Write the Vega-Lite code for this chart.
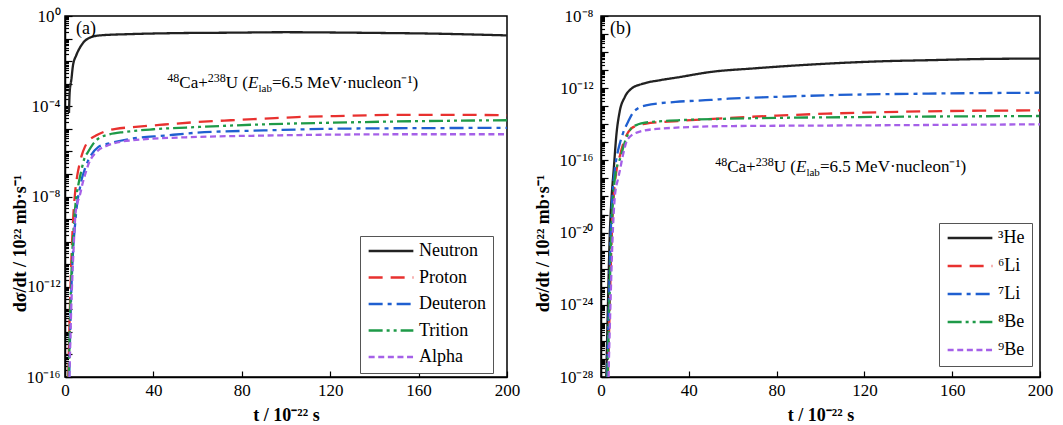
{
"$schema": "https://vega.github.io/schema/vega-lite/v6.json",
"background": "white",
"padding": {"left": 10, "top": 6, "right": 5, "bottom": 5},
"bounds": "flush",
"spacing": 94,
"config": {
  "font": "Liberation Serif",
  "view": {"stroke": "black", "strokeWidth": 1.5},
  "axis": {"domainColor": "black", "domainWidth": 1.5, "tickColor": "black", "tickWidth": 1.2, "labelColor": "black", "labelFont": "Liberation Serif", "labelFontSize": 17, "titleFont": "Liberation Serif", "titleFontSize": 18, "titleFontWeight": "bold", "titleColor": "black", "grid": false, "labelOverlap": false, "labelFlush": false},
  "legend": {"strokeColor": "#555", "fillColor": "white", "padding": 7, "symbolType": "stroke", "symbolSize": 2000, "symbolStrokeWidth": 2.5, "labelFontSize": 18, "labelFont": "Liberation Serif", "labelColor": "black", "clipHeight": 16, "rowPadding": 8.5, "labelOffset": 4, "cornerRadius": 0}
},
"resolve": {"scale": {"y": "independent", "color": "independent", "strokeDash": "independent"}, "legend": {"color": "independent", "strokeDash": "independent"}},
"hconcat": [
{
  "width": 442, "height": 361,
  "encoding": {
    "x": {"field": "t", "type": "quantitative", "scale": {"domain": [0, 200], "nice": false},
      "axis": {"values": [0, 40, 80, 120, 160, 200], "tickSize": -6, "labelPadding": 11, "title": "t / 10⁻²² s", "titleY": 38, "titleBaseline": "middle"}},
    "y": {"field": "v", "type": "quantitative", "scale": {"type": "log", "domain": [1e-16, 1], "nice": false},
      "axis": {"values": [1,2e-1,3e-1,4e-1,5e-1,6e-1,7e-1,8e-1,9e-1,1e-1,2e-2,3e-2,4e-2,5e-2,6e-2,7e-2,8e-2,9e-2,1e-2,2e-3,3e-3,4e-3,5e-3,6e-3,7e-3,8e-3,9e-3,1e-3,2e-4,3e-4,4e-4,5e-4,6e-4,7e-4,8e-4,9e-4,1e-4,2e-5,3e-5,4e-5,5e-5,6e-5,7e-5,8e-5,9e-5,1e-5,2e-6,3e-6,4e-6,5e-6,6e-6,7e-6,8e-6,9e-6,1e-6,2e-7,3e-7,4e-7,5e-7,6e-7,7e-7,8e-7,9e-7,1e-7,2e-8,3e-8,4e-8,5e-8,6e-8,7e-8,8e-8,9e-8,1e-8,2e-9,3e-9,4e-9,5e-9,6e-9,7e-9,8e-9,9e-9,1e-9,2e-10,3e-10,4e-10,5e-10,6e-10,7e-10,8e-10,9e-10,1e-10,2e-11,3e-11,4e-11,5e-11,6e-11,7e-11,8e-11,9e-11,1e-11,2e-12,3e-12,4e-12,5e-12,6e-12,7e-12,8e-12,9e-12,1e-12,2e-13,3e-13,4e-13,5e-13,6e-13,7e-13,8e-13,9e-13,1e-13,2e-14,3e-14,4e-14,5e-14,6e-14,7e-14,8e-14,9e-14,1e-14,2e-15,3e-15,4e-15,5e-15,6e-15,7e-15,8e-15,9e-15,1e-15,2e-16,3e-16,4e-16,5e-16,6e-16,7e-16,8e-16,9e-16,1e-16],
        "labelExpr": "abs(log(datum.value)/LN10 - round(log(datum.value)/LN10)) < 0.01 && round(log(datum.value)/LN10) % 4 == 0 ? '10' + replace(replace(replace(replace(replace(replace(replace('' + round(log(datum.value)/LN10), '-', '⁻'), '0', '⁰'), '1', '¹'), '2', '²'), '4', '⁴'), '6', '⁶'), '8', '⁸') : ''",
        "tickSize": {"condition": {"test": "abs(log(datum.value)/LN10 - round(log(datum.value)/LN10)) < 0.01", "value": -7}, "value": -3.5},
        "labelPadding": 12, "title": "dσ/dt / 10²² mb·s⁻¹", "titleX": -45, "titleY": 227, "titleAlign": "center", "titleBaseline": "middle", "titleAngle": -90}}
  },
  "layer": [
    {
      "data": {"values": [
        {"series": "Neutron", "t": 1.8, "v": 5.01e-5},
        {"series": "Neutron", "t": 2.1, "v": 3.98e-4},
        {"series": "Neutron", "t": 2.9, "v": 1.58e-3},
        {"series": "Neutron", "t": 3.6, "v": 6.31e-3},
        {"series": "Neutron", "t": 5.1, "v": 1.82e-2},
        {"series": "Neutron", "t": 7.4, "v": 5.01e-2},
        {"series": "Neutron", "t": 10.4, "v": 0.1},
        {"series": "Neutron", "t": 15.7, "v": 0.138},
        {"series": "Neutron", "t": 30, "v": 0.158},
        {"series": "Neutron", "t": 50, "v": 0.174},
        {"series": "Neutron", "t": 75, "v": 0.182},
        {"series": "Neutron", "t": 100, "v": 0.191},
        {"series": "Neutron", "t": 120, "v": 0.186},
        {"series": "Neutron", "t": 140, "v": 0.178},
        {"series": "Neutron", "t": 166, "v": 0.166},
        {"series": "Neutron", "t": 185, "v": 0.151},
        {"series": "Neutron", "t": 200, "v": 0.138},
        {"series": "Proton", "t": 1.5, "v": 1e-16},
        {"series": "Proton", "t": 2.2, "v": 1e-13},
        {"series": "Proton", "t": 3.0, "v": 3.16e-11},
        {"series": "Proton", "t": 3.8, "v": 1.58e-9},
        {"series": "Proton", "t": 4.5, "v": 1.26e-8},
        {"series": "Proton", "t": 5.5, "v": 7.94e-8},
        {"series": "Proton", "t": 6.5, "v": 2.51e-7},
        {"series": "Proton", "t": 7.5, "v": 6.31e-7},
        {"series": "Proton", "t": 9, "v": 1.58e-6},
        {"series": "Proton", "t": 11, "v": 3.16e-6},
        {"series": "Proton", "t": 14, "v": 5.01e-6},
        {"series": "Proton", "t": 18, "v": 7.59e-6},
        {"series": "Proton", "t": 23, "v": 1e-5},
        {"series": "Proton", "t": 30, "v": 1.17e-5},
        {"series": "Proton", "t": 45, "v": 1.55e-5},
        {"series": "Proton", "t": 60, "v": 2.0e-5},
        {"series": "Proton", "t": 75, "v": 2.4e-5},
        {"series": "Proton", "t": 90, "v": 2.82e-5},
        {"series": "Proton", "t": 105, "v": 3.31e-5},
        {"series": "Proton", "t": 130, "v": 3.8e-5},
        {"series": "Proton", "t": 150, "v": 4.17e-5},
        {"series": "Proton", "t": 175, "v": 4.17e-5},
        {"series": "Proton", "t": 200, "v": 3.98e-5},
        {"series": "Deuteron", "t": 1.9, "v": 1e-16},
        {"series": "Deuteron", "t": 2.6, "v": 1e-13},
        {"series": "Deuteron", "t": 3.6, "v": 3.16e-11},
        {"series": "Deuteron", "t": 4.6, "v": 6.31e-10},
        {"series": "Deuteron", "t": 5.5, "v": 5.01e-9},
        {"series": "Deuteron", "t": 6.7, "v": 2.24e-8},
        {"series": "Deuteron", "t": 7.8, "v": 7.08e-8},
        {"series": "Deuteron", "t": 9, "v": 1.66e-7},
        {"series": "Deuteron", "t": 10.5, "v": 3.98e-7},
        {"series": "Deuteron", "t": 11.8, "v": 6.76e-7},
        {"series": "Deuteron", "t": 15, "v": 1.55e-6},
        {"series": "Deuteron", "t": 19.5, "v": 2.19e-6},
        {"series": "Deuteron", "t": 30, "v": 3.63e-6},
        {"series": "Deuteron", "t": 45, "v": 5.01e-6},
        {"series": "Deuteron", "t": 60, "v": 6.76e-6},
        {"series": "Deuteron", "t": 90, "v": 8.51e-6},
        {"series": "Deuteron", "t": 120, "v": 1e-5},
        {"series": "Deuteron", "t": 160, "v": 1.07e-5},
        {"series": "Deuteron", "t": 200, "v": 1.1e-5},
        {"series": "Trition", "t": 1.7, "v": 1e-16},
        {"series": "Trition", "t": 2.4, "v": 1e-13},
        {"series": "Trition", "t": 3.3, "v": 3.16e-11},
        {"series": "Trition", "t": 4.2, "v": 1e-9},
        {"series": "Trition", "t": 5, "v": 7.94e-9},
        {"series": "Trition", "t": 6, "v": 3.16e-8},
        {"series": "Trition", "t": 7.3, "v": 1.26e-7},
        {"series": "Trition", "t": 8.5, "v": 3.98e-7},
        {"series": "Trition", "t": 10.4, "v": 9.33e-7},
        {"series": "Trition", "t": 12.5, "v": 2.0e-6},
        {"series": "Trition", "t": 15, "v": 3.63e-6},
        {"series": "Trition", "t": 20, "v": 5.62e-6},
        {"series": "Trition", "t": 27, "v": 7.24e-6},
        {"series": "Trition", "t": 40, "v": 9.55e-6},
        {"series": "Trition", "t": 60, "v": 1.2e-5},
        {"series": "Trition", "t": 90, "v": 1.58e-5},
        {"series": "Trition", "t": 120, "v": 1.86e-5},
        {"series": "Trition", "t": 160, "v": 2.19e-5},
        {"series": "Trition", "t": 200, "v": 2.4e-5},
        {"series": "Alpha", "t": 2.0, "v": 1e-16},
        {"series": "Alpha", "t": 2.8, "v": 1e-13},
        {"series": "Alpha", "t": 3.8, "v": 3.16e-11},
        {"series": "Alpha", "t": 4.7, "v": 1.48e-9},
        {"series": "Alpha", "t": 5.6, "v": 5.01e-9},
        {"series": "Alpha", "t": 6.7, "v": 1.12e-8},
        {"series": "Alpha", "t": 8, "v": 3.98e-8},
        {"series": "Alpha", "t": 9, "v": 8.71e-8},
        {"series": "Alpha", "t": 10.5, "v": 2.51e-7},
        {"series": "Alpha", "t": 11.8, "v": 4.79e-7},
        {"series": "Alpha", "t": 13.5, "v": 7.94e-7},
        {"series": "Alpha", "t": 15, "v": 1.12e-6},
        {"series": "Alpha", "t": 19.5, "v": 1.86e-6},
        {"series": "Alpha", "t": 30, "v": 3.09e-6},
        {"series": "Alpha", "t": 60, "v": 4.37e-6},
        {"series": "Alpha", "t": 90, "v": 5.01e-6},
        {"series": "Alpha", "t": 120, "v": 5.5e-6},
        {"series": "Alpha", "t": 160, "v": 5.75e-6},
        {"series": "Alpha", "t": 200, "v": 5.75e-6}
      ]},
      "mark": {"type": "line", "strokeWidth": 2.3, "clip": true, "interpolate": "monotone"},
      "encoding": {
        "color": {"field": "series", "type": "nominal", "scale": {"domain": ["Neutron", "Proton", "Deuteron", "Trition", "Alpha"], "range": ["#222222", "#e8312f", "#1f5fd0", "#1e9a48", "#a560e8"]},
          "legend": {"title": null, "orient": "none", "legendX": 295, "legendY": 220}},
        "strokeDash": {"field": "series", "type": "nominal", "scale": {"domain": ["Neutron", "Proton", "Deuteron", "Trition", "Alpha"], "range": [[1, 0], [14, 8], [14, 5, 4, 5], [14, 4, 3, 4, 3, 4], [6, 3.6]]},
          "legend": {"title": null, "orient": "none", "legendX": 295, "legendY": 220}}
      }
    },
    {
      "data": {"values": [{"t": 5.0, "v": 0.265, "label": "(a)"}]},
      "mark": {"type": "text", "align": "left", "baseline": "middle", "fontSize": 18, "font": "Liberation Serif", "color": "black"},
      "encoding": {"text": {"field": "label"}}
    },
    {
      "data": {"values": [{"t": 82.8, "v": 6.4e-4, "label": "U ("}]},
      "mark": {"type": "text", "align": "right", "baseline": "alphabetic", "fontSize": 17, "font": "Liberation Serif", "color": "black"},
      "encoding": {"text": {"field": "label"}}
    },
    {
      "data": {"values": [{"t": 82.8, "v": 6.4e-4, "label": "238"}]},
      "mark": {"type": "text", "align": "right", "baseline": "alphabetic", "fontSize": 12, "dx": -22.2, "dy": -6, "font": "Liberation Serif", "color": "black"},
      "encoding": {"text": {"field": "label"}}
    },
    {
      "data": {"values": [{"t": 82.8, "v": 6.4e-4, "label": "Ca+"}]},
      "mark": {"type": "text", "align": "right", "baseline": "alphabetic", "fontSize": 17, "dx": -40.2, "font": "Liberation Serif", "color": "black"},
      "encoding": {"text": {"field": "label"}}
    },
    {
      "data": {"values": [{"t": 82.8, "v": 6.4e-4, "label": "48"}]},
      "mark": {"type": "text", "align": "right", "baseline": "alphabetic", "fontSize": 12, "dx": -68.7, "dy": -6, "font": "Liberation Serif", "color": "black"},
      "encoding": {"text": {"field": "label"}}
    },
    {
      "data": {"values": [{"t": 82.8, "v": 6.4e-4, "label": "E"}]},
      "mark": {"type": "text", "align": "left", "baseline": "alphabetic", "fontSize": 17, "fontStyle": "italic", "font": "Liberation Serif", "color": "black"},
      "encoding": {"text": {"field": "label"}}
    },
    {
      "data": {"values": [{"t": 82.8, "v": 6.4e-4, "label": "lab"}]},
      "mark": {"type": "text", "align": "left", "baseline": "alphabetic", "fontSize": 11, "dx": 10.5, "dy": 4, "font": "Liberation Serif", "color": "black"},
      "encoding": {"text": {"field": "label"}}
    },
    {
      "data": {"values": [{"t": 82.8, "v": 6.4e-4, "label": "=6.5 MeV·nucleon⁻¹)"}]},
      "mark": {"type": "text", "align": "left", "baseline": "alphabetic", "fontSize": 17, "dx": 24, "font": "Liberation Serif", "color": "black"},
      "encoding": {"text": {"field": "label"}}
    }
  ]
},
{
  "width": 439, "height": 361,
  "encoding": {
    "x": {"field": "t", "type": "quantitative", "scale": {"domain": [0, 200], "nice": false},
      "axis": {"values": [0, 40, 80, 120, 160, 200], "tickSize": -6, "labelPadding": 11, "title": "t / 10⁻²² s", "titleY": 38, "titleBaseline": "middle"}},
    "y": {"field": "v", "type": "quantitative", "scale": {"type": "log", "domain": [1e-28, 1e-8], "nice": false},
      "axis": {"values": [1e-8,2e-9,3e-9,4e-9,5e-9,6e-9,7e-9,8e-9,9e-9,1e-9,2e-10,3e-10,4e-10,5e-10,6e-10,7e-10,8e-10,9e-10,1e-10,2e-11,3e-11,4e-11,5e-11,6e-11,7e-11,8e-11,9e-11,1e-11,2e-12,3e-12,4e-12,5e-12,6e-12,7e-12,8e-12,9e-12,1e-12,2e-13,3e-13,4e-13,5e-13,6e-13,7e-13,8e-13,9e-13,1e-13,2e-14,3e-14,4e-14,5e-14,6e-14,7e-14,8e-14,9e-14,1e-14,2e-15,3e-15,4e-15,5e-15,6e-15,7e-15,8e-15,9e-15,1e-15,2e-16,3e-16,4e-16,5e-16,6e-16,7e-16,8e-16,9e-16,1e-16,2e-17,3e-17,4e-17,5e-17,6e-17,7e-17,8e-17,9e-17,1e-17,2e-18,3e-18,4e-18,5e-18,6e-18,7e-18,8e-18,9e-18,1e-18,2e-19,3e-19,4e-19,5e-19,6e-19,7e-19,8e-19,9e-19,1e-19,2e-20,3e-20,4e-20,5e-20,6e-20,7e-20,8e-20,9e-20,1e-20,2e-21,3e-21,4e-21,5e-21,6e-21,7e-21,8e-21,9e-21,1e-21,2e-22,3e-22,4e-22,5e-22,6e-22,7e-22,8e-22,9e-22,1e-22,2e-23,3e-23,4e-23,5e-23,6e-23,7e-23,8e-23,9e-23,1e-23,2e-24,3e-24,4e-24,5e-24,6e-24,7e-24,8e-24,9e-24,1e-24,2e-25,3e-25,4e-25,5e-25,6e-25,7e-25,8e-25,9e-25,1e-25,2e-26,3e-26,4e-26,5e-26,6e-26,7e-26,8e-26,9e-26,1e-26,2e-27,3e-27,4e-27,5e-27,6e-27,7e-27,8e-27,9e-27,1e-27,2e-28,3e-28,4e-28,5e-28,6e-28,7e-28,8e-28,9e-28,1e-28],
        "labelExpr": "abs(log(datum.value)/LN10 - round(log(datum.value)/LN10)) < 0.01 && round(log(datum.value)/LN10) % 4 == 0 ? '10' + replace(replace(replace(replace(replace(replace(replace('' + round(log(datum.value)/LN10), '-', '⁻'), '0', '⁰'), '1', '¹'), '2', '²'), '4', '⁴'), '6', '⁶'), '8', '⁸') : ''",
        "tickSize": {"condition": {"test": "abs(log(datum.value)/LN10 - round(log(datum.value)/LN10)) < 0.01", "value": -7}, "value": -3.5},
        "labelPadding": 15, "title": "dσ/dt / 10²² mb·s⁻¹", "titleX": -58, "titleY": 227, "titleAlign": "center", "titleBaseline": "middle", "titleAngle": -90}}
  },
  "layer": [
    {
      "data": {"values": [
        {"series": "³He", "t": 2.4, "v": 1e-28},
        {"series": "³He", "t": 3.2, "v": 1.58e-24},
        {"series": "³He", "t": 4.0, "v": 7.94e-21},
        {"series": "³He", "t": 4.7, "v": 5.01e-19},
        {"series": "³He", "t": 5.8, "v": 3.16e-17},
        {"series": "³He", "t": 7.0, "v": 2.51e-15},
        {"series": "³He", "t": 8.5, "v": 5.01e-14},
        {"series": "³He", "t": 10.8, "v": 3.16e-13},
        {"series": "³He", "t": 13.8, "v": 9.33e-13},
        {"series": "³He", "t": 19.1, "v": 1.78e-12},
        {"series": "³He", "t": 26.7, "v": 2.75e-12},
        {"series": "³He", "t": 35, "v": 3.98e-12},
        {"series": "³He", "t": 50, "v": 7.94e-12},
        {"series": "³He", "t": 70, "v": 1.26e-11},
        {"series": "³He", "t": 103, "v": 2.29e-11},
        {"series": "³He", "t": 130, "v": 3.16e-11},
        {"series": "³He", "t": 149, "v": 3.55e-11},
        {"series": "³He", "t": 175, "v": 4.17e-11},
        {"series": "³He", "t": 200, "v": 4.37e-11},
        {"series": "⁶Li", "t": 3.2, "v": 1e-28},
        {"series": "⁶Li", "t": 4.0, "v": 1e-24},
        {"series": "⁶Li", "t": 4.8, "v": 3.16e-21},
        {"series": "⁶Li", "t": 5.8, "v": 1e-18},
        {"series": "⁶Li", "t": 7, "v": 2.51e-17},
        {"series": "⁶Li", "t": 8.7, "v": 2.0e-16},
        {"series": "⁶Li", "t": 10.9, "v": 1.58e-15},
        {"series": "⁶Li", "t": 13.7, "v": 5.75e-15},
        {"series": "⁶Li", "t": 17, "v": 8.91e-15},
        {"series": "⁶Li", "t": 20, "v": 1.07e-14},
        {"series": "⁶Li", "t": 35, "v": 1.51e-14},
        {"series": "⁶Li", "t": 58, "v": 2.24e-14},
        {"series": "⁶Li", "t": 80, "v": 3.02e-14},
        {"series": "⁶Li", "t": 103, "v": 3.89e-14},
        {"series": "⁶Li", "t": 149, "v": 5.25e-14},
        {"series": "⁶Li", "t": 200, "v": 5.89e-14},
        {"series": "⁷Li", "t": 2.8, "v": 1e-28},
        {"series": "⁷Li", "t": 3.6, "v": 1e-24},
        {"series": "⁷Li", "t": 4.3, "v": 3.16e-21},
        {"series": "⁷Li", "t": 5.2, "v": 1e-18},
        {"series": "⁷Li", "t": 6.3, "v": 3.16e-17},
        {"series": "⁷Li", "t": 7.5, "v": 2.51e-16},
        {"series": "⁷Li", "t": 8.5, "v": 7.94e-16},
        {"series": "⁷Li", "t": 10, "v": 3.16e-15},
        {"series": "⁷Li", "t": 12.3, "v": 1.35e-14},
        {"series": "⁷Li", "t": 14.6, "v": 4.47e-14},
        {"series": "⁷Li", "t": 17, "v": 7.94e-14},
        {"series": "⁷Li", "t": 20.5, "v": 1.12e-13},
        {"series": "⁷Li", "t": 34, "v": 1.74e-13},
        {"series": "⁷Li", "t": 50, "v": 2.24e-13},
        {"series": "⁷Li", "t": 58, "v": 2.63e-13},
        {"series": "⁷Li", "t": 80, "v": 3.31e-13},
        {"series": "⁷Li", "t": 103, "v": 4.07e-13},
        {"series": "⁷Li", "t": 149, "v": 5.01e-13},
        {"series": "⁷Li", "t": 200, "v": 5.62e-13},
        {"series": "⁸Be", "t": 3.0, "v": 1e-28},
        {"series": "⁸Be", "t": 3.8, "v": 1e-24},
        {"series": "⁸Be", "t": 4.6, "v": 3.16e-21},
        {"series": "⁸Be", "t": 5.6, "v": 1e-18},
        {"series": "⁸Be", "t": 6.8, "v": 2.51e-17},
        {"series": "⁸Be", "t": 8.7, "v": 1.26e-16},
        {"series": "⁸Be", "t": 10.9, "v": 1.05e-15},
        {"series": "⁸Be", "t": 13.7, "v": 5.75e-15},
        {"series": "⁸Be", "t": 17, "v": 1e-14},
        {"series": "⁸Be", "t": 20, "v": 1.23e-14},
        {"series": "⁸Be", "t": 35, "v": 1.66e-14},
        {"series": "⁸Be", "t": 58, "v": 2.04e-14},
        {"series": "⁸Be", "t": 118, "v": 2.51e-14},
        {"series": "⁸Be", "t": 200, "v": 2.88e-14},
        {"series": "⁹Be", "t": 3.4, "v": 1e-28},
        {"series": "⁹Be", "t": 4.3, "v": 1e-24},
        {"series": "⁹Be", "t": 5.2, "v": 3.16e-21},
        {"series": "⁹Be", "t": 6.3, "v": 1e-18},
        {"series": "⁹Be", "t": 7.8, "v": 1e-17},
        {"series": "⁹Be", "t": 8.7, "v": 3.16e-17},
        {"series": "⁹Be", "t": 10, "v": 2.0e-16},
        {"series": "⁹Be", "t": 12.3, "v": 1.58e-15},
        {"series": "⁹Be", "t": 17, "v": 3.72e-15},
        {"series": "⁹Be", "t": 27, "v": 5.75e-15},
        {"series": "⁹Be", "t": 58, "v": 7.94e-15},
        {"series": "⁹Be", "t": 118, "v": 8.71e-15},
        {"series": "⁹Be", "t": 200, "v": 1e-14}
      ]},
      "mark": {"type": "line", "strokeWidth": 2.3, "clip": true, "interpolate": "monotone"},
      "encoding": {
        "color": {"field": "series", "type": "nominal", "scale": {"domain": ["³He", "⁶Li", "⁷Li", "⁸Be", "⁹Be"], "range": ["#222222", "#e8312f", "#1f5fd0", "#1e9a48", "#a560e8"]},
          "legend": {"title": null, "orient": "none", "legendX": 338, "legendY": 207, "rowPadding": 10}},
        "strokeDash": {"field": "series", "type": "nominal", "scale": {"domain": ["³He", "⁶Li", "⁷Li", "⁸Be", "⁹Be"], "range": [[1, 0], [14, 8], [14, 5, 4, 5], [14, 4, 3, 4, 3, 4], [6, 3.6]]},
          "legend": {"title": null, "orient": "none", "legendX": 338, "legendY": 207, "rowPadding": 10}}
      }
    },
    {
      "data": {"values": [{"t": 4.1, "v": 1.9e-9, "label": "(b)"}]},
      "mark": {"type": "text", "align": "left", "baseline": "middle", "fontSize": 18, "font": "Liberation Serif", "color": "black"},
      "encoding": {"text": {"field": "label"}}
    },
    {
      "data": {"values": [{"t": 88.8, "v": 2.29e-17, "label": "U ("}]},
      "mark": {"type": "text", "align": "right", "baseline": "alphabetic", "fontSize": 17, "font": "Liberation Serif", "color": "black"},
      "encoding": {"text": {"field": "label"}}
    },
    {
      "data": {"values": [{"t": 88.8, "v": 2.29e-17, "label": "238"}]},
      "mark": {"type": "text", "align": "right", "baseline": "alphabetic", "fontSize": 12, "dx": -22.2, "dy": -6, "font": "Liberation Serif", "color": "black"},
      "encoding": {"text": {"field": "label"}}
    },
    {
      "data": {"values": [{"t": 88.8, "v": 2.29e-17, "label": "Ca+"}]},
      "mark": {"type": "text", "align": "right", "baseline": "alphabetic", "fontSize": 17, "dx": -40.2, "font": "Liberation Serif", "color": "black"},
      "encoding": {"text": {"field": "label"}}
    },
    {
      "data": {"values": [{"t": 88.8, "v": 2.29e-17, "label": "48"}]},
      "mark": {"type": "text", "align": "right", "baseline": "alphabetic", "fontSize": 12, "dx": -68.7, "dy": -6, "font": "Liberation Serif", "color": "black"},
      "encoding": {"text": {"field": "label"}}
    },
    {
      "data": {"values": [{"t": 88.8, "v": 2.29e-17, "label": "E"}]},
      "mark": {"type": "text", "align": "left", "baseline": "alphabetic", "fontSize": 17, "fontStyle": "italic", "font": "Liberation Serif", "color": "black"},
      "encoding": {"text": {"field": "label"}}
    },
    {
      "data": {"values": [{"t": 88.8, "v": 2.29e-17, "label": "lab"}]},
      "mark": {"type": "text", "align": "left", "baseline": "alphabetic", "fontSize": 11, "dx": 10.5, "dy": 4, "font": "Liberation Serif", "color": "black"},
      "encoding": {"text": {"field": "label"}}
    },
    {
      "data": {"values": [{"t": 88.8, "v": 2.29e-17, "label": "=6.5 MeV·nucleon⁻¹)"}]},
      "mark": {"type": "text", "align": "left", "baseline": "alphabetic", "fontSize": 17, "dx": 24, "font": "Liberation Serif", "color": "black"},
      "encoding": {"text": {"field": "label"}}
    }
  ]
}
]
}
